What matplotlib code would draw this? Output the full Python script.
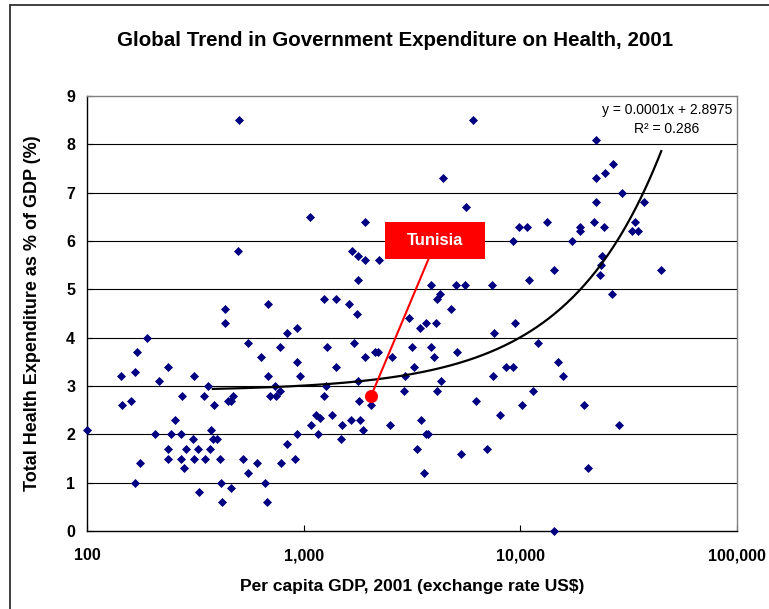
import numpy as np
import matplotlib
matplotlib.use("Agg")
import matplotlib.pyplot as plt
from matplotlib.patches import Rectangle
from matplotlib.ticker import FixedLocator, FuncFormatter, NullLocator

plt.rcParams['font.family'] = ['Liberation Sans', 'DejaVu Sans']

# ---- data: per-capita GDP (US$) and total health expenditure (% of GDP) ----
gdp = [100, 144, 145, 160, 167, 170, 167, 176, 189, 206, 214, 236, 236, 236, 243,
       256, 271, 275, 271, 281, 287, 307, 311, 325, 329, 347, 311, 352, 410, 361,
       368, 372, 384, 382, 399, 416, 422, 434, 434, 448, 464, 474, 464, 500, 505,
       525, 556, 556, 612, 638, 666, 675, 688, 688, 702, 748, 735, 775, 775, 786,
       838, 838, 929, 929, 929, 916, 966, 1070, 1077, 1136, 1185, 1160, 1236, 1236,
       1273, 1276, 1346, 1409, 1409, 1486, 1508, 1618, 1659, 1677, 1699, 1754, 1780,
       1780, 1786, 1799, 1812, 1876, 1910, 1910, 1910, 2035, 2131, 2209, 2216, 2508,
       2552, 2919, 2930, 3047, 3178, 3223, 3350, 3448, 3497, 3597, 3662, 3757, 3687,
       3862, 3862, 4015, 4073, 4131, 4146, 4248, 4312, 4417, 4808, 5070, 5106, 5305,
       5536, 5598, 6072, 6270, 6990, 7373, 7450, 7590, 8030, 8590, 9215, 9215, 9480,
       9820, 10140, 10740, 10970, 11480, 12020, 13280, 14350, 14350, 14960, 15780,
       17370, 18880, 18880, 19720, 20510, 21990, 22390, 22390, 22390, 23290, 23610,
       23940, 24300, 24640, 26470, 26840, 28580, 29510, 32710, 33880, 34990, 37270,
       44770]
health = [2.1, 3.2, 2.6, 2.7, 3.3, 3.7, 1.0, 1.4, 4.0, 2.0, 3.1, 3.4, 1.7, 1.5, 2.0,
          2.3, 2.0, 2.8, 1.5, 1.3, 1.7, 1.9, 3.2, 1.7, 0.8, 2.8, 1.5, 1.5, 1.5, 3.0,
          1.7, 2.1, 2.6, 1.9, 1.9, 1.0, 0.6, 4.6, 4.3, 2.7, 2.7, 2.8, 0.9, 5.8, 8.5,
          1.5, 3.9, 1.2, 1.4, 3.6, 1.0, 0.6, 4.7, 3.2, 2.8, 2.8, 3.0, 3.8, 2.9, 1.4,
          4.1, 1.8, 4.2, 3.5, 2.0, 1.5, 3.2, 6.5, 2.2, 2.4, 2.33, 2.0, 4.8, 2.8,
          3.0, 3.8, 2.4, 4.8, 3.4, 1.9, 2.2, 4.7, 2.3, 5.8, 3.9, 4.5, 5.7,
          5.2, 3.1, 2.7, 2.3, 2.1, 6.4, 5.6, 3.6, 2.6, 3.7, 3.7, 5.6, 2.2,
          3.6, 2.9, 3.2, 4.4, 3.8, 3.4, 1.7, 4.2, 2.3, 1.2, 2.0, 2.0, 4.3,
          5.1, 3.8, 3.6, 4.3, 2.9, 4.8, 4.9, 3.1, 7.3, 4.6, 5.1, 3.7, 1.6,
          5.1, 6.7, 8.5, 2.7, 1.7, 5.1, 3.2, 4.1, 2.4, 3.4, 3.4, 6.0, 4.3,
          6.3, 2.6, 6.3, 5.2, 2.9, 3.9, 6.4, 5.4, 0.0, 3.5, 3.2,
          6.0, 6.3, 6.2, 2.6, 1.3, 6.4, 8.1, 7.3, 6.8, 5.3, 5.5,
          5.7, 6.3, 7.4, 4.9, 7.6, 2.2, 7.0, 6.2, 6.4, 6.2, 6.8,
          5.4]

tunisia_gdp = 2050
tunisia_health = 2.8
tunisia_label = "Tunisia"

trend_slope = 0.000111
trend_intercept = 2.8975
trend_x_min = 381
trend_x_max = 44700
trend_eq = "y = 0.0001x + 2.8975"
trend_r2 = "R\u00b2 = 0.286"

x_ticks = [100, 1000, 10000, 100000]
y_ticks = list(range(0, 10))

title = "Global Trend in Government Expenditure on Health, 2001"
xlabel = "Per capita GDP, 2001 (exchange rate US$)"
ylabel = "Total Health Expenditure as % of GDP (%)"

# ---- figure ----
W, H = 769, 609
fig = plt.figure(figsize=(W / 100, H / 100), dpi=100)
fig.patch.set_facecolor('white')

# outer chart-area border
fig.add_artist(Rectangle((10 / W, -0.2), 2.0, 1.2 - 5 / H, transform=fig.transFigure,
                         fill=False, ec='#303030', lw=1.3))

ax = fig.add_axes([87 / W, 1 - 531 / H, 650 / W, 435 / H])
ax.set_xscale('log')
ax.set_xlim(100, 100000)
ax.set_ylim(0, 9)

for yv in y_ticks[1:-1]:
    ax.axhline(yv, color='black', lw=0.8, zorder=1)

ax.scatter(gdp, health, marker='D', s=4.6 ** 2, color='#000080', zorder=3,
           clip_on=False, linewidths=0)

tx = np.logspace(np.log10(trend_x_min), np.log10(trend_x_max), 300)
ax.plot(tx, trend_slope * tx + trend_intercept, color='black', lw=1.6, zorder=4)

ax.text(0.892, 0.968, trend_eq, transform=ax.transAxes, ha='center', va='center',
        fontsize=10)
ax.text(0.892, 0.924, trend_r2, transform=ax.transAxes, ha='center', va='center',
        fontsize=10)

# Tunisia highlight: red point, connector line and red label box
ax.plot([tunisia_gdp], [tunisia_health], 'o', color='red', ms=8.4, zorder=6,
        mec='red')
box_w_px, box_h_px = 100, 37
box_left_px, box_bottom_px = 385, H - 259
ax.add_patch(Rectangle((box_left_px, box_bottom_px), box_w_px, box_h_px,
                       transform=None, fc='red', ec='none', zorder=6.5))
ax.annotate(tunisia_label, xy=(tunisia_gdp, tunisia_health),
            xytext=(box_left_px + box_w_px / 2, box_bottom_px + box_h_px / 2),
            textcoords='figure pixels', ha='center', va='center',
            fontsize=12, fontweight='bold', color='white', zorder=7,
            arrowprops=dict(arrowstyle='-', color='red', lw=1.5,
                            shrinkA=0, shrinkB=0, relpos=(0.4, -0.6)))

# spines
for s in ['left', 'bottom']:
    ax.spines[s].set_color('black')
    ax.spines[s].set_linewidth(1.0)
for s in ['top', 'right']:
    ax.spines[s].set_color('#808080')
    ax.spines[s].set_linewidth(1.0)

ax.xaxis.set_major_locator(FixedLocator(x_ticks))
ax.xaxis.set_minor_locator(NullLocator())
ax.xaxis.set_major_formatter(FuncFormatter(lambda v, p: f"{int(round(v)):,}"))
ax.yaxis.set_major_locator(FixedLocator(y_ticks))
ax.tick_params(axis='x', direction='in', length=4, width=0.8, pad=12.5,
               labelsize=11.5)
ax.tick_params(axis='y', direction='in', length=4, width=0.8, pad=8.5,
               labelsize=11.5)
for lab in ax.get_xticklabels() + ax.get_yticklabels():
    lab.set_fontweight('bold')

ax.set_xlabel(xlabel, fontsize=12.5, fontweight='bold')
ax.xaxis.set_label_coords(0.5, (531 - 587) / 435)
ax.xaxis.label.set_va('center')
ax.set_ylabel(ylabel, fontsize=13, fontweight='bold')
ax.yaxis.set_label_coords((33 - 87) / 650, 0.5)
ax.yaxis.label.set_va('center')

fig.text(395 / W, 1 - 40 / H, title, ha='center', va='center', fontsize=14.8,
         fontweight='bold')

fig.savefig('out.png', dpi=100)
